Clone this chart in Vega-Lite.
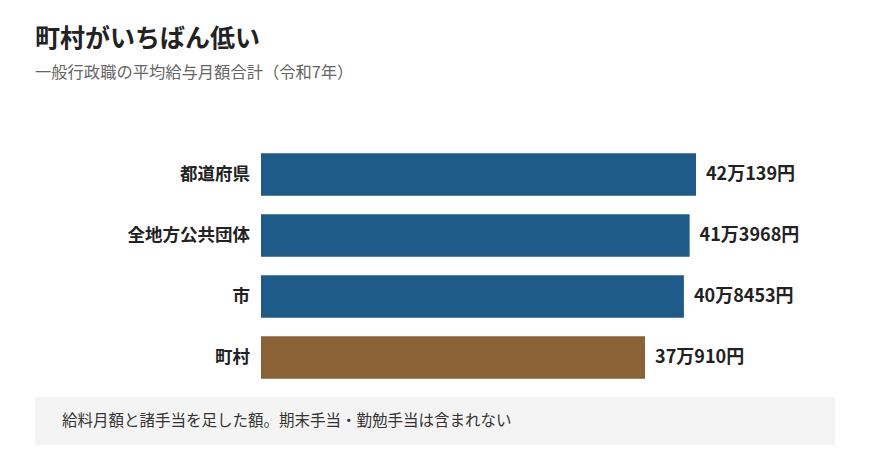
{
  "$schema": "https://vega.github.io/schema/vega-lite/v6.json",
  "padding": {"left": 35, "top": 26, "right": 35, "bottom": 20},
  "background": "#ffffff",
  "config": {
    "font": "Noto Sans CJK JP",
    "view": {"stroke": null}
  },
  "title": {
    "text": "町村がいちばん低い",
    "subtitle": "一般行政職の平均給与月額合計（令和7年）",
    "anchor": "start",
    "frame": "bounds",
    "font": "Noto Sans CJK JP",
    "fontSize": 25,
    "fontWeight": "bold",
    "color": "#222222",
    "subtitleFont": "Noto Sans CJK JP",
    "subtitleFontSize": 16.3,
    "subtitleColor": "#666666",
    "subtitlePadding": 13,
    "offset": 63
  },
  "spacing": 9,
  "vconcat": [
    {
      "width": 800,
      "height": 244,
      "data": {
        "values": [
          {"group": "都道府県", "value": 420139, "label": "42万139円", "kind": "other", "base": 0},
          {"group": "全地方公共団体", "value": 413968, "label": "41万3968円", "kind": "other", "base": 0},
          {"group": "市", "value": 408453, "label": "40万8453円", "kind": "other", "base": 0},
          {"group": "町村", "value": 370910, "label": "37万910円", "kind": "town", "base": 0}
        ]
      },
      "encoding": {
        "y": {
          "field": "group",
          "type": "nominal",
          "sort": null,
          "scale": {"paddingInner": 0.3, "paddingOuter": 0.15},
          "axis": null
        }
      },
      "layer": [
        {
          "mark": {"type": "bar"},
          "encoding": {
            "x": {
              "field": "value",
              "type": "quantitative",
              "scale": {"domain": [0, 554390], "range": [226, 800], "nice": false},
              "axis": null
            },
            "color": {
              "field": "kind",
              "type": "nominal",
              "scale": {"domain": ["other", "town"], "range": ["#1f5b88", "#8a6236"]},
              "legend": null
            }
          }
        },
        {
          "mark": {
            "type": "text",
            "align": "left",
            "baseline": "middle",
            "dx": 10,
            "fontSize": 18,
            "fontWeight": "bold",
            "color": "#222222",
            "font": "Noto Sans CJK JP"
          },
          "encoding": {
            "x": {"field": "value", "type": "quantitative"},
            "text": {"field": "label"}
          }
        },
        {
          "mark": {
            "type": "text",
            "align": "right",
            "baseline": "middle",
            "dx": -11,
            "fontSize": 17.5,
            "fontWeight": "bold",
            "color": "#222222",
            "font": "Noto Sans CJK JP"
          },
          "encoding": {
            "x": {"field": "base", "type": "quantitative"},
            "text": {"field": "group"}
          }
        }
      ]
    },
    {
      "width": 800,
      "height": 48,
      "view": {"fill": "#f4f4f4", "stroke": null},
      "data": {"values": [{"pos": 0, "note": "給料月額と諸手当を足した額。期末手当・勤勉手当は含まれない"}]},
      "mark": {
        "type": "text",
        "align": "left",
        "baseline": "middle",
        "dx": 27,
        "fontSize": 15.5,
        "color": "#333333",
        "font": "Noto Sans CJK JP"
      },
      "encoding": {
        "x": {"field": "pos", "type": "quantitative", "scale": {"domain": [0, 1]}, "axis": null},
        "text": {"field": "note"}
      }
    }
  ]
}
